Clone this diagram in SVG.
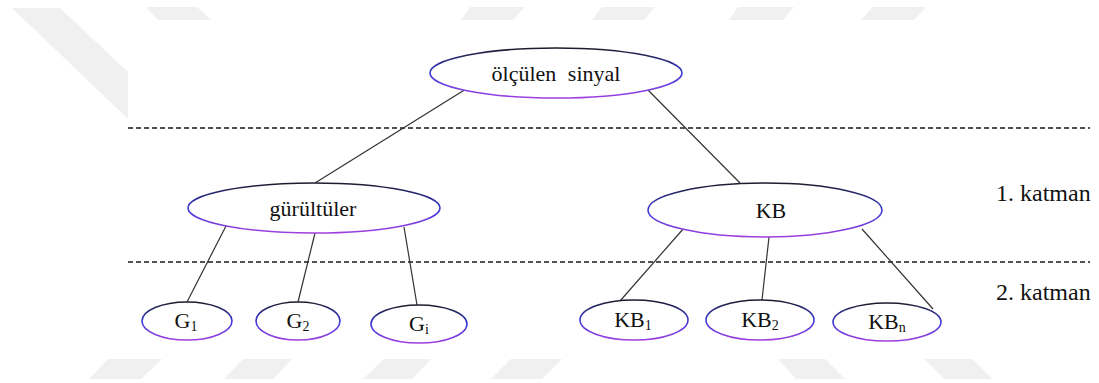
<svg xmlns="http://www.w3.org/2000/svg" width="1099" height="383" viewBox="0 0 1099 383">
<defs>
<linearGradient id="eg" x1="0" y1="0" x2="0" y2="1">
<stop offset="0" stop-color="#1c1c2a"/>
<stop offset="0.5" stop-color="#3a3ad8"/>
<stop offset="1" stop-color="#a040e0"/>
</linearGradient>
<style>
.wm{fill:#f0f0f0}
.node{fill:#fff;stroke:url(#eg);stroke-width:1.6}
text{font-family:'Liberation Serif','DejaVu Serif',serif;font-size:22px;fill:#111}
.lbl{text-anchor:middle}
.side{font-size:24px}
.sub{font-size:14px}
.dash{stroke:#1a1a1a;stroke-width:1.3;stroke-dasharray:5 3;fill:none}
.edge{stroke:#333;stroke-width:1.2;fill:none}
</style>
</defs>
<rect width="1099" height="383" fill="#fff"/>
<g id="watermark">
<polygon class="wm" points="12,8 60,8 200,140 150,140"/>
<polygon class="wm" points="146,7 197,7 211,20 158,20"/>
<polygon class="wm" points="470,7 525,7 513,20 461,20"/>
<polygon class="wm" points="602,7 655,7 644,20 592,20"/>
<polygon class="wm" points="738,7 794,7 783,20 729,20"/>
<polygon class="wm" points="873,7 926,7 914,20 861,20"/>
<polygon class="wm" points="108,359 162,359 141,379 89,379"/>
<polygon class="wm" points="243,359 292,359 273,379 224,379"/>
<polygon class="wm" points="384,359 431,359 412,379 363,379"/>
<polygon class="wm" points="511,359 562,359 542,379 491,379"/>
<polygon class="wm" points="778,359 825,359 845,379 796,379"/>
<polygon class="wm" points="924,359 972,359 993,379 944,379"/>
<rect x="128" y="20" width="971" height="338" fill="#fff"/>
</g>
<g id="layers">
<line class="dash" x1="128" y1="128" x2="1090" y2="128"/>
<line class="dash" x1="128" y1="262" x2="1090" y2="262"/>
<text class="side" x="996" y="201">1. katman</text>
<text class="side" x="996" y="300">2. katman</text>
</g>
<g id="connectors">
<line class="edge" x1="466" y1="89" x2="315" y2="183"/>
<line class="edge" x1="646" y1="88" x2="740" y2="183"/>
<line class="edge" x1="226" y1="226" x2="187" y2="302"/>
<line class="edge" x1="315" y1="233" x2="298" y2="302"/>
<line class="edge" x1="404" y1="227" x2="417" y2="305"/>
<line class="edge" x1="684" y1="228" x2="620" y2="301"/>
<line class="edge" x1="769" y1="237" x2="762" y2="300"/>
<line class="edge" x1="862" y1="229" x2="933" y2="309"/>
</g>
<g id="n-root">
<ellipse class="node" cx="556" cy="73" rx="126" ry="25"/>
<text class="lbl" x="556" y="81" word-spacing="6">ölçülen sinyal</text>
</g>
<g id="n-gurultuler">
<ellipse class="node" cx="314" cy="208" rx="126" ry="25"/>
<text class="lbl" x="313" y="216">gürültüler</text>
</g>
<g id="n-kb">
<ellipse class="node" cx="765" cy="210" rx="117" ry="27"/>
<text class="lbl" x="771" y="218" font-size="23">KB</text>
</g>
<g id="n-g1">
<ellipse class="node" cx="187" cy="321" rx="45" ry="19"/>
<text class="lbl" x="186" y="328">G<tspan class="sub" dy="3">1</tspan></text>
</g>
<g id="n-g2">
<ellipse class="node" cx="298" cy="321" rx="42" ry="19"/>
<text class="lbl" x="298" y="328">G<tspan class="sub" dy="3">2</tspan></text>
</g>
<g id="n-gi">
<ellipse class="node" cx="419" cy="324" rx="48" ry="19"/>
<text class="lbl" x="419" y="331">G<tspan class="sub" dy="3">i</tspan></text>
</g>
<g id="n-kb1">
<ellipse class="node" cx="634" cy="320" rx="54" ry="20"/>
<text class="lbl" x="633" y="327">KB<tspan class="sub" dy="3">1</tspan></text>
</g>
<g id="n-kb2">
<ellipse class="node" cx="760" cy="320" rx="54" ry="20"/>
<text class="lbl" x="760" y="327">KB<tspan class="sub" dy="3">2</tspan></text>
</g>
<g id="n-kbn">
<ellipse class="node" cx="887" cy="322" rx="54" ry="19"/>
<text class="lbl" x="887" y="329">KB<tspan class="sub" dy="3">n</tspan></text>
</g>
</svg>
